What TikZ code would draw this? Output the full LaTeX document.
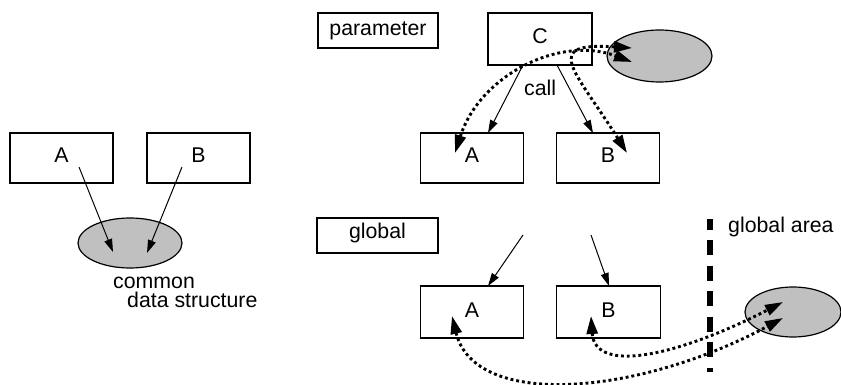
\documentclass[tikz,border=0pt]{standalone}
\usepackage{fontspec}
\setmainfont{Liberation Sans}
\usetikzlibrary{arrows.meta,shapes.geometric}
\definecolor{blobgray}{RGB}{192,192,192}
\newcommand{\lblfont}{\fontsize{21.3}{18}\selectfont}
\begin{document}
\begin{tikzpicture}[x=1pt,y=-1pt,
  box/.style={draw,line width=1.2pt,minimum width=103pt,minimum height=50pt,inner sep=0pt,font=\lblfont,text height=15pt,text depth=5pt},
  tagbox/.style={draw,line width=1.2pt,minimum width=120pt,minimum height=35pt,inner sep=0pt,font=\lblfont,text height=15pt,text depth=5pt},
  blob/.style={ellipse,draw,line width=1.2pt,fill=blobgray,minimum width=104pt,minimum height=50pt,inner sep=0pt},
  txt/.style={font=\lblfont,inner sep=0pt,anchor=base west},
  callarrow/.style={-{Triangle[length=13pt,width=8pt]},line width=1pt},
  dotarrow/.style={{Triangle[length=18pt,width=11pt]}-{Triangle[length=18pt,width=11pt]},line width=2.9pt,dash pattern=on 2.9pt off 2.9pt},
  arealine/.style={line width=6.5pt,dash pattern=on 15pt off 10.5pt,dash phase=4.5pt}
]
\useasboundingbox (0,0) rectangle (841,385);

% ---- left: common data structure
\node[box] (lA) at (61.5,158) {A};
\node[box] (lB) at (198.5,158) {B};
\node[blob] (blobL) at (130,243) {};
\node[txt] (common) at (113,288.5) {common};
\node[txt] (datastr) at (127,307.5) {data structure};
\coordinate (lAs) at (79,167);
\coordinate (lAe) at (113,252);
\coordinate (lBs) at (182,167);
\coordinate (lBe) at (147,253);
\draw[callarrow] (lAs) -- (lAe);
\draw[callarrow] (lBs) -- (lBe);

% ---- top right: parameter
\node[tagbox] (param) at (378,30.5) {parameter};
\node[box,minimum width=104pt,minimum height=52pt] (C) at (540,39) {C};
\node[box] (pA) at (472,158) {A};
\node[box] (pB) at (608,158) {B};
\node[blob,minimum width=105pt,minimum height=52pt] (blobT) at (659.5,56) {};
\node[txt] (call) at (524,96) {call};
\coordinate (cAs) at (523,65);
\coordinate (cAe) at (488,133);
\coordinate (cBs) at (557,65);
\coordinate (cBe) at (593,133);
\draw[callarrow] (cAs) -- (cAe);
\draw[callarrow] (cBs) -- (cBe);
\coordinate (tA) at (455,153);
\coordinate (tB) at (627,153);
\coordinate (tE1) at (632,62);
\coordinate (tE2) at (632,48);
\draw[dotarrow] (tA) .. controls (480,75) and (560,35) .. (tE1);
\draw[dotarrow] (tB) .. controls (575,70) and (540,42) .. (tE2);

% ---- bottom right: global
\node[tagbox,minimum width=121pt,text depth=10pt] (glob) at (377.5,235.5) {global};
\node[box,minimum height=52pt] (gA) at (472,312) {A};
\node[box,minimum width=103.5pt,minimum height=52pt] (gB) at (608.5,312) {B};
\node[blob,minimum width=96pt,minimum height=50pt] (blobG) at (793,312) {};
\node[txt] (garea) at (728,233) {global area};
\coordinate (dTop) at (710,219);
\coordinate (dBot) at (710,372);
\draw[arealine] (dTop) -- (dBot);
\coordinate (gAs) at (523,235);
\coordinate (gAe) at (488,286);
\coordinate (gBs) at (591,235);
\coordinate (gBe) at (609,286);
\draw[callarrow] (gAs) -- (gAe);
\draw[callarrow] (gBs) -- (gBe);
\coordinate (bA) at (452,316);
\coordinate (bB) at (591,316);
\coordinate (bE1) at (783,318);
\coordinate (bE2) at (783,302);
\draw[dotarrow] (bA) .. controls (475,410) and (640,395) .. (bE1);
\draw[dotarrow] (bB) .. controls (595,375) and (680,355) .. (bE2);
\end{tikzpicture}
\end{document}
